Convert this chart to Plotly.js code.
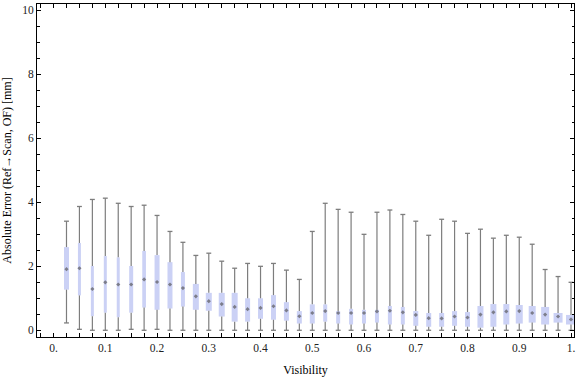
<!DOCTYPE html>
<html>
<head>
<meta charset="utf-8">
<script src="https://cdn.plot.ly/plotly-3.0.1.min.js"></script>
<style>html,body{margin:0;padding:0;background:#fff;}#chart{width:576px;height:377px;}</style>
</head>
<body>
<div id="chart"></div>
<script>
// Box positions (visibility)
const visibility = [0.025,0.05,0.075,0.1,0.125,0.15,0.175,0.2,0.225,0.25,
  0.275,0.3,0.325,0.35,0.375,0.4,0.425,0.45,0.475,0.5,
  0.525,0.55,0.575,0.6,0.625,0.65,0.675,0.7,0.725,0.75,
  0.775,0.8,0.825,0.85,0.875,0.9,0.925,0.95,0.975,1.0];
const whiskerLow = [0.23,0.03,0,0,0,0.03,0,0.03,0,0,
  0,0,0,0,0,0,0,0,0,0,
  0,0,0,0,0,0,0,0,0,0,
  0,0,0,0,0,0,0,0,0,0];
const q1 = [1.27,1.09,0.44,0.55,0.41,0.55,0.71,0.64,0.68,0.74,
  0.64,0.61,0.43,0.27,0.27,0.36,0.33,0.30,0.21,0.21,
  0.27,0.21,0.18,0.21,0.24,0.18,0.18,0.14,0.11,0.11,
  0.14,0.11,0.08,0.11,0.18,0.21,0.24,0.18,0.24,0.18];
const median = [1.91,1.94,1.29,1.50,1.43,1.43,1.59,1.51,1.43,1.32,
  1.06,0.91,0.82,0.73,0.66,0.70,0.75,0.62,0.44,0.54,
  0.60,0.54,0.54,0.54,0.59,0.61,0.56,0.48,0.38,0.37,
  0.43,0.40,0.49,0.56,0.59,0.60,0.54,0.49,0.43,0.34];
const q3 = [2.60,2.73,2.01,2.32,2.28,2.01,2.48,2.35,2.13,1.82,
  1.45,1.17,1.17,1.17,1.00,1.00,1.10,0.88,0.60,0.81,
  0.81,0.60,0.67,0.64,0.64,0.76,0.73,0.60,0.54,0.54,
  0.60,0.57,0.76,0.82,0.82,0.79,0.76,0.73,0.54,0.48];
const whiskerHigh = [3.41,3.87,4.09,4.13,3.97,3.87,3.91,3.59,3.09,2.75,
  2.34,2.41,2.16,1.94,2.09,2.00,2.09,1.88,1.59,3.09,
  3.97,3.78,3.69,3.00,3.69,3.76,3.62,3.41,2.97,3.47,
  3.41,3.03,3.16,2.88,2.97,2.91,2.69,1.90,1.68,1.50];
// Relative box widths as drawn in the reference
const boxWidth = [5,3,3,3,3,4,3.7,5,5,4,
  6,6,6,6,5,5,5,5,5,5,
  4,4,4,4,4,4,4,5,5,5,
  5,5,6,6,6,7,7,8,9,10];
const xTickLabels = ["0.","0.1","0.2","0.3","0.4","0.5","0.6","0.7","0.8","0.9","1."];

const pxPerUnit = 517.5;
const boxColor = 'rgb(203,209,245)';
const whiskerColor = 'rgb(125,125,125)';

const wx = [], wy = [];
for (let i = 0; i < visibility.length; i++) {
  wx.push(visibility[i], visibility[i], null, visibility[i], visibility[i], null);
  wy.push(whiskerLow[i], q1[i], null, q3[i], whiskerHigh[i], null);
}
const capX = visibility.concat(visibility);
const capY = whiskerLow.concat(whiskerHigh);

const traces = [
  {type:'bar', x: visibility, base: q1, y: q3.map((v,i)=>v-q1[i]),
   width: boxWidth.map(w=>w/pxPerUnit), marker:{color: boxColor, line:{width:0}},
   hoverinfo:'skip', showlegend:false},
  {type:'scatter', mode:'lines', x: wx, y: wy, connectgaps:false,
   line:{color: whiskerColor, width:1.2}, hoverinfo:'skip', showlegend:false},
  {type:'scatter', mode:'markers', x: capX, y: capY,
   marker:{symbol:'line-ew', size:3.5, line:{color: whiskerColor, width:1.3}},
   hoverinfo:'skip', showlegend:false},
  {type:'scatter', mode:'markers', x: visibility, y: median,
   marker:{symbol:'diamond', size:3.2, color:'rgba(110,110,120,0.85)', line:{width:0}},
   hoverinfo:'skip', showlegend:false}
];

const layout = {
  width:576, height:377,
  margin:{l:37, r:2, t:4, b:40},
  paper_bgcolor:'#fff', plot_bgcolor:'#fff',
  barmode:'overlay', showlegend:false,
  font:{family:'"Liberation Serif", "Times New Roman", serif', size:11, color:'#222'},
  xaxis:{
    range:[-0.032, 1.0058], showgrid:false, zeroline:false,
    showline:true, linecolor:'#000', linewidth:1, mirror:'ticks',
    ticks:'inside', ticklen:4, tickcolor:'#000', tickwidth:1,
    tickmode:'array', tickvals: xTickLabels.map((t,i)=>i*0.1), ticktext: xTickLabels,
    minor:{dtick:0.025, tick0:0, ticks:'inside', ticklen:4, tickcolor:'#000', tickwidth:1, showgrid:false},
    tickfont:{size:11.5},
    title:{text:'Visibility', font:{size:12, color:'#000'}, standoff:12}
  },
  yaxis:{
    range:[-0.21, 10.2], showgrid:false, zeroline:false,
    showline:true, linecolor:'#000', linewidth:1, mirror:'ticks',
    ticks:'inside', ticklen:4, tickcolor:'#000', tickwidth:1,
    tickmode:'linear', tick0:0, dtick:2,
    minor:{dtick:0.5, tick0:0, ticks:'inside', ticklen:2.5, tickcolor:'#000', tickwidth:1, showgrid:false},
    tickfont:{size:11.5},
    title:{text:'Absolute Error (Ref\u2192Scan, OF) [mm]', font:{size:12, color:'#000'}, standoff:8}
  }
};

Plotly.newPlot('chart', traces, layout, {staticPlot:true, displayModeBar:false});
</script>
</body>
</html>
